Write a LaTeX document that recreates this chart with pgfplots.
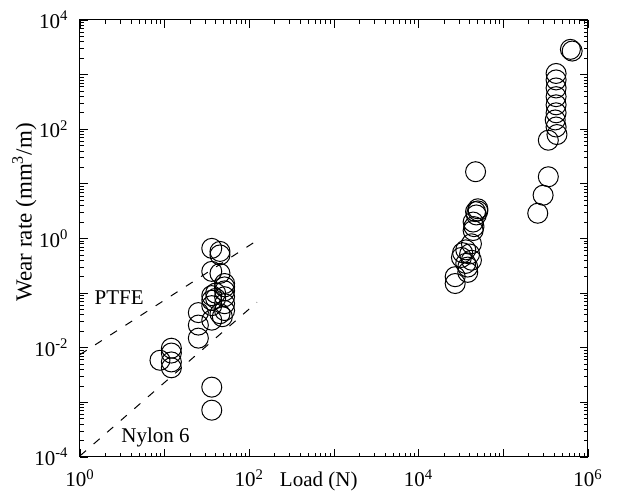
\documentclass[border=0pt]{standalone}
\usepackage{pgfplots}
\pgfplotsset{compat=1.18}
\usepackage{fontspec}
\setmainfont{Liberation Serif}
\begin{document}
\fontsize{10.5}{12.5}\selectfont
\begin{tikzpicture}
\path[use as bounding box] (-40pt,-18pt) rectangle (277pt,228.5pt);
\begin{axis}[
  at={(0,0)}, anchor=south west,
  scale only axis, width=254pt, height=218.5pt,
  xmode=log, ymode=log,
  xmin=1, xmax=1e6, ymin=1e-4, ymax=1e4,
  xtick={1,10,100,1000,10000,100000,1000000},
  xticklabels={10\textsuperscript{0},,10\textsuperscript{2},,10\textsuperscript{4},,10\textsuperscript{6}},
  ytick={1e-4,1e-3,1e-2,1e-1,1,10,100,1000,10000},
  yticklabels={10\textsuperscript{-4},,10\textsuperscript{-2},,10\textsuperscript{0},,10\textsuperscript{2},,10\textsuperscript{4}},
  tick pos=both, tick align=inside,
  major tick length=4pt, minor tick length=2pt,
  every tick/.style={black, line width=0.4pt},
  axis line style={line width=0.5pt},
  xticklabel style={anchor=base, yshift=-15pt},
  yticklabel style={xshift=-2pt},
  xlabel={Load (N)},
  xlabel style={at={(axis description cs:0.47,0)}, anchor=base, yshift=-15pt},
  ylabel={Wear rate (mm\textsuperscript{3}/m)},
  ylabel style={at={(axis description cs:0,0.56)}, anchor=south, yshift=18pt, font=\fontsize{11.5}{13}\selectfont},
  clip=false,
]
% PTFE and Nylon 6 lines
\addplot[black, line width=0.5pt, dash pattern=on 4pt off 5pt] coordinates {(1,0.0075) (118,0.88)};
\addplot[black, line width=0.5pt, dash pattern=on 4pt off 5pt] coordinates {(1,1.05e-4) (123,0.068)};
\node at (axis cs:2.9,0.081) {PTFE};
\node at (axis cs:7.8,2.3e-4) {Nylon 6};
% data
\addplot[only marks, mark=o, mark size=5pt, black, mark options={line width=0.5pt}] coordinates {
(8.8,0.0059) (12,0.0098) (12,0.0080) (12,0.0055) (12,0.0043)
(25,0.015) (25,0.026) (25,0.044)
(36,0.66) (36,0.25) (36,0.09) (36,0.074) (36,0.059) (36,0.032) (36,0.0019) (36,0.00072)
(45,0.58) (45,0.50) (45,0.23) (40,0.08) (40,0.10)
(51,0.11) (51,0.086) (51,0.064) (51,0.048) (51,0.13) (51,0.15) (45,0.042) (48,0.037)
(2.7e4,0.20) (2.7e4,0.15) (3.2e4,0.45) (3.3e4,0.55) (3.6e4,0.62) (3.6e4,0.35)
(3.8e4,0.24) (3.8e4,0.30) (4.0e4,0.52) (4.2e4,0.40) (4.2e4,0.8) (4.4e4,1.4)
(4.5e4,1.65) (4.4e4,2.0) (4.8e4,2.7) (4.7e4,3.1) (5.0e4,3.5) (5.0e4,3.2) (4.7e4,16.7)
(6.2e5,2900) (6.5e5,2700) (4.2e5,1050) (4.2e5,800) (4.2e5,570) (4.2e5,395) (4.2e5,280)
(4.2e5,200) (4.1e5,148) (4.2e5,110) (4.3e5,80) (3.4e5,63) (3.4e5,13.5) (2.95e5,6.2) (2.55e5,2.9)
};
\end{axis}
\end{tikzpicture}
\end{document}
